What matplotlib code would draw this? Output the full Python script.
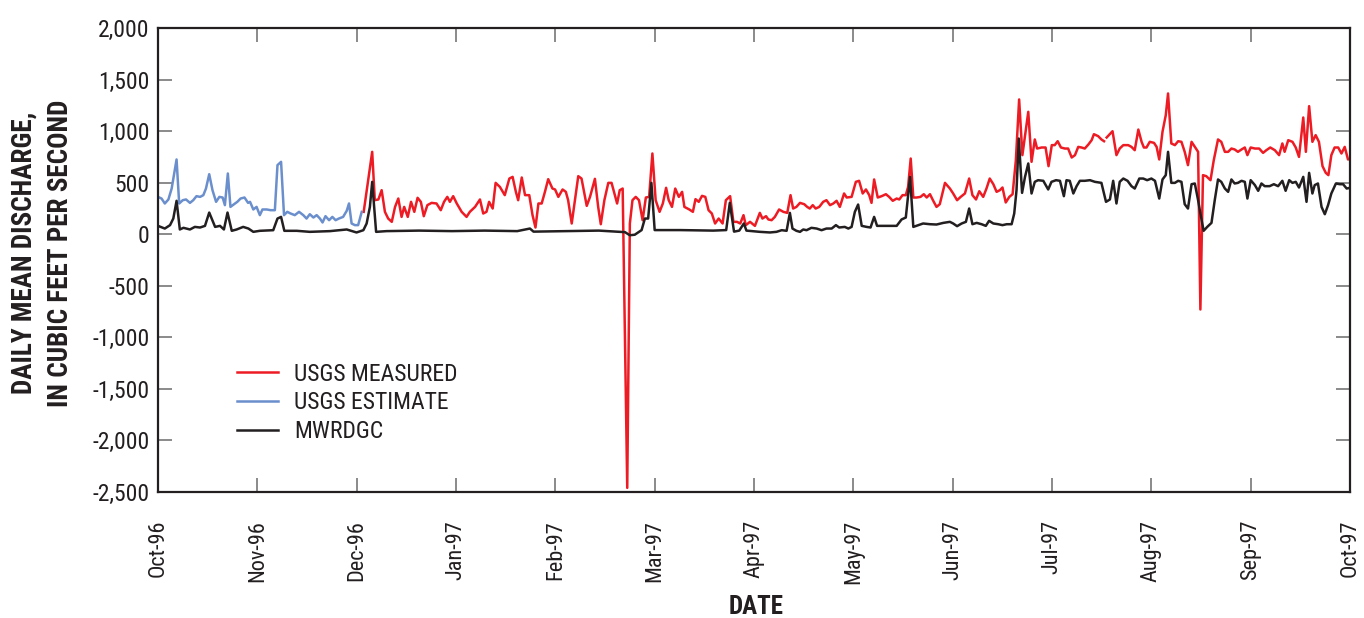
import numpy as np
import matplotlib
matplotlib.use('Agg')
import matplotlib.pyplot as plt
from matplotlib.ticker import FuncFormatter

plt.rcParams['font.family'] = ['Roboto Condensed', 'Archivo Narrow', 'DejaVu Sans']

# day index within the water year (0 = Oct 1 1996), daily mean discharge (cfs)
usgs_estimate = [
    (0.0, 362), (1.1, 346), (2.1, 298), (3.2, 337), (4.2, 443), (5.7, 725), (6.5, 298),
    (7.6, 330), (8.6, 337), (9.8, 304), (10.8, 330), (11.8, 369), (12.9, 362), (13.9, 379),
    (14.7, 443), (15.7, 582), (16.7, 427), (17.8, 314), (18.8, 362), (19.8, 356), (20.5, 282),
    (21.4, 589), (22.2, 265), (23.3, 291), (24.3, 314), (25.3, 346), (26.5, 356), (27.6, 304),
    (28.2, 314), (29.2, 240), (30.2, 265), (31.2, 185), (32.0, 240), (33.3, 240), (34.5, 233),
    (35.8, 233), (36.6, 670), (37.7, 702), (38.6, 185), (39.6, 217), (40.6, 201), (41.9, 185),
    (43.2, 217), (44.5, 185), (45.5, 152), (46.5, 194), (47.6, 162), (48.6, 185), (49.6, 152),
    (50.4, 114), (51.3, 175), (52.4, 136), (53.4, 168), (54.4, 136), (55.4, 152), (56.7, 168),
    (57.8, 227), (58.5, 298), (59.3, 104), (60.3, 88), (61.3, 88), (62.4, 217),
]

usgs_measured = [
    (63.0, 217), (65.6, 799), (66.4, 330), (67.5, 337), (68.5, 427), (69.5, 217), (70.5, 152),
    (71.6, 120), (72.6, 265), (73.6, 346), (74.6, 168), (75.4, 265), (76.5, 168), (77.5, 314),
    (78.5, 217), (79.5, 353), (80.5, 314), (81.4, 175), (82.5, 282), (83.8, 304), (85.3, 298),
    (86.6, 233), (87.6, 314), (88.6, 362), (89.4, 314), (90.4, 369), (91.5, 298), (93.0, 217),
    (94.5, 168), (95.5, 217), (97.1, 265), (98.6, 337), (99.6, 201), (100.6, 217), (101.4, 314),
    (102.5, 249), (103.4, 498), (104.7, 459), (106.2, 379), (107.6, 540), (108.6, 556),
    (109.6, 411), (110.3, 330), (111.4, 550), (112.4, 379), (113.7, 379), (114.7, 185),
    (115.6, 65), (116.5, 298), (117.5, 298), (118.5, 411), (119.5, 534),
    (120.8, 443), (121.6, 434), (122.6, 362), (123.9, 434), (124.9, 411), (125.6, 330),
    (126.7, 104), (127.7, 330), (128.7, 563), (129.7, 540), (131.3, 275), (132.3, 362),
    (133.8, 537), (134.8, 265), (135.6, 97), (136.7, 330), (137.9, 498), (138.9, 498),
    (139.9, 379), (140.6, 298), (141.4, 427), (142.3, 443), (143.7, -2460), (144.5, 104),
    (145.3, 330), (146.3, 362), (147.3, 330), (148.4, 136), (149.4, 356), (150.4, 362),
    (151.4, 783), (152.4, 330), (153.6, 217), (154.6, 298), (155.6, 450), (156.4, 330),
    (157.4, 265), (158.4, 443), (159.5, 362), (160.5, 411), (161.2, 265), (162.7, 240),
    (163.8, 217), (164.6, 340), (165.6, 314), (166.6, 372), (167.6, 362), (168.6, 233),
    (169.6, 201), (170.6, 104), (171.7, 152), (172.9, 104), (173.9, 330), (175.2, 369),
    (176.2, 120), (177.3, 120), (178.3, 104), (179.3, 185), (180.0, 88),
    (181.3, 120), (182.8, 81), (184.3, 207), (185.1, 152), (186.2, 175), (186.9, 143),
    (187.9, 136), (188.9, 168), (190.2, 240), (191.5, 217), (192.7, 207), (193.7, 379),
    (194.5, 249), (195.5, 265), (196.6, 304), (197.9, 291), (198.8, 265), (199.6, 249),
    (200.5, 282), (201.4, 249), (202.5, 265), (203.7, 314), (204.7, 330), (205.8, 282),
    (206.8, 298), (207.8, 324), (208.8, 265), (210.1, 395), (210.9, 356), (212.4, 362),
    (213.7, 508), (214.7, 518), (215.8, 395), (216.8, 434), (217.8, 379), (218.5, 304),
    (219.3, 531), (220.4, 356), (221.6, 369), (222.9, 388), (223.9, 362), (225.0, 324),
    (226.2, 346), (227.0, 337), (228.0, 379), (229.0, 379), (229.7, 459), (230.5, 734),
    (231.3, 356), (232.3, 356), (233.5, 362), (234.5, 388), (235.4, 356), (236.4, 388),
    (237.4, 324), (238.4, 265), (239.4, 291), (241.0, 498),
    (242.5, 443), (243.5, 395), (244.7, 330), (245.8, 362), (247.1, 395), (248.4, 540),
    (249.4, 379), (250.5, 337), (251.5, 417), (252.7, 362), (253.7, 443), (254.7, 540),
    (255.8, 485), (256.8, 411), (257.8, 427), (258.6, 453), (259.6, 308), (260.7, 362),
    (261.7, 388), (262.7, 718), (263.7, 1307), (264.7, 767), (266.5, 1187), (267.5, 702),
    (268.5, 919), (269.2, 831), (270.6, 841), (271.8, 841), (272.7, 660), (273.7, 864),
    (274.6, 864), (275.5, 902), (276.5, 841), (277.7, 831), (278.7, 831), (279.8, 744),
    (280.8, 767), (281.8, 847), (282.8, 841), (283.8, 831), (284.9, 870), (285.9, 912),
    (286.6, 970), (287.9, 951), (288.9, 919), (289.7, 902), (290.1, np.nan), (290.5, 938),
    (292.3, 999), (293.5, 767), (294.5, 831), (295.6, 864), (297.1, 864), (298.1, 847),
    (299.1, 815), (300.2, 1015), (301.2, 896), (301.9, 841), (302.7, 841), (303.7, 896),
    (305.0, 886), (305.8, 847), (306.6, 725), (307.6, 993), (308.6, 1154), (309.3, 1365),
    (310.3, 880), (311.4, 864), (312.4, 902), (313.4, 896), (314.4, 799), (315.4, 670),
    (316.5, 896), (317.5, 847), (318.5, 799), (319.2, -730), (320.0, 573), (321.0, 563),
    (322.3, 524), (323.3, 718), (324.6, 919), (325.6, 896), (326.7, 799), (327.7, 799),
    (328.7, 831), (329.7, 822), (330.7, 799), (331.8, 822), (332.8, 841), (333.6, 767),
    (334.6, 841), (335.9, 831), (337.2, 831), (338.4, 789), (339.4, 815), (340.6, 841),
    (342.0, 815), (343.3, 767), (344.3, 880), (345.0, 799), (346.1, 912), (347.4, 896),
    (348.4, 841), (349.4, 750), (350.7, 1132), (351.5, 799), (352.5, 1242), (353.5, 896),
    (354.5, 961), (355.5, 896), (356.6, 660), (357.6, 595), (358.4, 573), (359.3, 767),
    (360.3, 841), (361.4, 841), (362.4, 783), (363.4, 847), (364.4, 725), (365.0, 730),
]

mwrdgc = [
    (0.0, 81), (2.1, 55), (3.7, 88), (4.7, 152), (5.7, 324), (6.7, 46), (7.8, 62), (9.8, 46),
    (11.3, 71), (12.9, 65), (14.4, 81), (15.7, 210), (17.5, 71), (19.0, 81), (20.2, 46),
    (21.3, 210), (22.6, 33), (24.1, 46), (26.1, 71), (27.7, 55), (29.2, 23), (31.2, 33),
    (35.3, 39), (36.6, 152), (37.7, 168), (38.7, 33), (42.5, 33), (46.5, 23), (52.7, 30),
    (57.8, 46), (60.8, 17), (62.9, 39), (63.9, 104), (64.9, 265), (65.6, 508), (66.8, 23),
    (70, 30), (80, 35), (90, 30), (100, 35), (110, 30), (113.9, 55), (115, 25), (125, 30),
    (135, 35), (143, 20), (144.5, -10), (146, -5), (148.1, 40), (149.1, 152), (150.1, 152),
    (151.1, 498), (152.1, 40), (160, 40), (170, 35), (174, 40), (175.1, 304), (176.4, 25),
    (178, 35), (179.4, 104), (180.2, 35), (184.3, 23), (187.4, 17), (189.4, 23), (191.0, 39),
    (192.5, 33), (193.5, 207), (194.3, 55), (195.5, 33), (196.6, 23), (197.6, 46), (198.6, 39),
    (200.1, 62), (201.7, 55), (203.2, 39), (204.7, 55), (206.3, 55), (207.6, 88), (208.6, 65),
    (210.3, 71), (211.4, 55), (212.4, 71), (213.4, 217), (214.4, 288), (215.5, 81), (217.0, 71),
    (218.2, 65), (219.3, 168), (220.2, 81), (222.1, 81), (226.2, 81), (227.7, 143), (229.0, 162),
    (230.3, 556), (231.3, 71), (232.8, 88), (234.3, 104), (236.4, 97), (238.4, 94), (240.5, 110),
    (242.5, 120), (243.5, 104), (244.7, 78), (246.1, 104), (247.4, 120), (248.4, 249),
    (249.4, 97), (250.7, 110), (252.2, 97), (253.5, 81), (254.5, 130), (255.8, 104), (257.3, 97),
    (258.6, 88), (259.9, 97), (261.4, 97), (262.2, 201), (262.9, 427), (263.6, 928), (264.6, 401),
    (265.5, 556), (266.5, 686), (267.5, 395), (268.5, 508), (269.5, 524), (271.1, 518),
    (272.6, 434), (273.6, 508), (275.0, 524), (276.2, 518), (277.4, 369), (278.2, 524),
    (279.2, 518), (280.3, 395), (281.3, 466), (282.3, 518), (283.8, 518), (285.4, 524),
    (286.9, 508), (288.9, 498), (290.3, 314), (291.5, 337), (292.5, 518), (293.5, 298),
    (294.5, 508), (295.6, 540), (296.9, 518), (298.1, 466), (299.1, 443), (300.5, 540),
    (301.7, 540), (302.9, 524), (304.2, 540), (305.3, 518), (306.6, 346), (307.6, 531),
    (308.6, 573), (309.3, 799), (310.3, 498), (311.4, 498), (312.4, 518), (313.4, 508),
    (314.4, 291), (315.4, 249), (316.5, 485), (317.5, 492), (318.5, 330), (319.2, 201),
    (320.2, 33), (321.3, 71), (322.6, 110), (323.6, 330), (324.6, 531), (325.6, 508),
    (326.7, 443), (327.7, 411), (328.7, 531), (329.7, 492), (330.7, 498), (331.8, 518),
    (332.8, 508), (333.6, 346), (334.6, 524), (335.9, 476), (336.9, 421), (337.9, 492),
    (338.9, 466), (340.4, 466), (341.7, 485), (343.0, 466), (344.3, 518), (345.3, 421),
    (346.4, 524), (347.4, 498), (348.4, 508), (349.4, 453), (350.7, 556), (351.7, 314),
    (352.5, 595), (353.5, 395), (354.2, 476), (355.2, 492), (356.3, 265), (357.3, 194),
    (358.3, 282), (359.3, 395), (360.7, 492), (361.9, 485), (362.9, 485), (364.0, 443),
    (365.0, 450),
]

month_labels = ['Oct-96', 'Nov-96', 'Dec-96', 'Jan-97', 'Feb-97', 'Mar-97', 'Apr-97',
                'May-97', 'Jun-97', 'Jul-97', 'Aug-97', 'Sep-97', 'Oct-97']

fig = plt.figure(figsize=(13.64, 6.18), dpi=100)
ax = fig.add_axes([0.1158, 0.2039, 0.8739, 0.7508])

for data, color, label in [(usgs_measured, '#ED1C24', 'USGS MEASURED'),
                           (usgs_estimate, '#6B8FCC', 'USGS ESTIMATE'),
                           (mwrdgc, '#231F20', 'MWRDGC')]:
    d, q = zip(*data)
    ax.plot(d, q, color=color, lw=1.8, label=label)

ax.set_xlim(0, 365)
ax.set_ylim(-2500, 2000)
ax.set_xticks(np.linspace(0, 365, 13))
ax.set_xticklabels(month_labels, rotation=90)
ax.set_yticks(np.arange(-2500, 2001, 500))
ax.yaxis.set_major_formatter(FuncFormatter(lambda v, p: f'{int(v):,}'))
ax.tick_params(direction='in', length=10, width=1.2, color='#777777',
               top=True, right=True, labelcolor='#231F20')
ax.tick_params(axis='y', pad=6, labelsize=17)
ax.tick_params(axis='x', pad=20, labelsize=16)
for s in ax.spines.values():
    s.set_linewidth(1.6)
    s.set_color('#231F20')

fig.text(42 / 1364, 1 - 253 / 618, 'DAILY MEAN DISCHARGE,\nIN CUBIC FEET PER SECOND',
         rotation=90, ha='center', va='center', fontsize=19.5, fontweight='bold',
         linespacing=1.45, color='#231F20')
fig.text(756 / 1364, 1 - 607 / 618, 'DATE', ha='center', va='center', fontsize=18,
         fontweight='bold', color='#231F20')

ax.legend(loc='upper left', bbox_to_anchor=(0.066, 0.279), frameon=False, fontsize=17,
          handlelength=1.75, handletextpad=0.7, labelspacing=0.25, borderaxespad=0,
          borderpad=0, labelcolor='#231F20')

plt.savefig('out.png', dpi=100)
